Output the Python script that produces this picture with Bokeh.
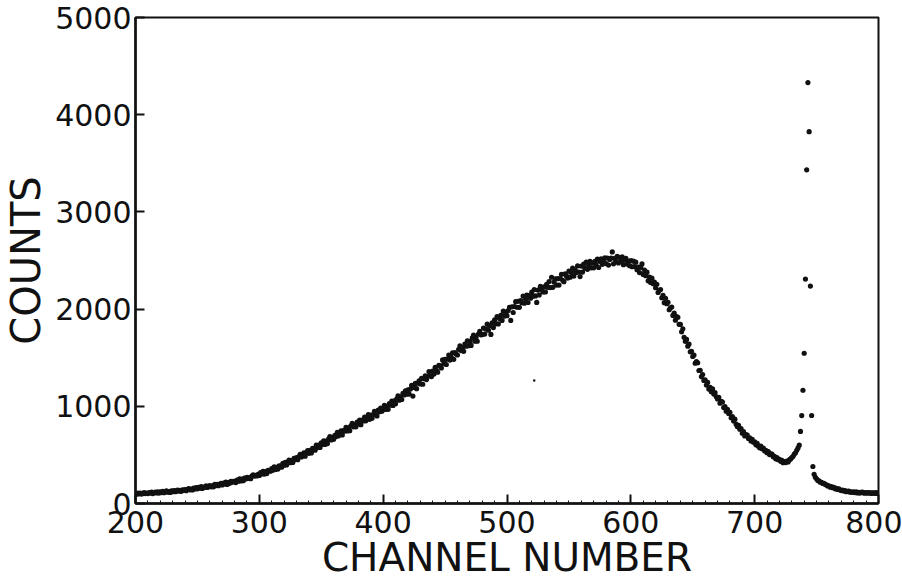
from bokeh.plotting import figure
from bokeh.models import Range1d, FixedTicker
from bokeh.embed import file_html
from bokeh.resources import INLINE

# Pulse-height spectrum: counts per channel
rise_start = 200
counts_rise = [
    103, 96, 108, 100, 106, 97, 105, 112, 102, 107,
    102, 113, 107, 117, 102, 112, 116, 109, 119, 107,
    119, 112, 124, 111, 120, 129, 116, 122, 114, 129,
    122, 132, 121, 132, 139, 126, 135, 125, 141, 136,
    144, 132, 145, 153, 141, 148, 139, 158, 150, 163,
    151, 166, 157, 174, 155, 170, 167, 181, 165, 177,
    185, 172, 182, 172, 198, 184, 196, 183, 198, 208,
    191, 211, 201, 220, 196, 216, 208, 227, 218, 229,
    227, 215, 240, 230, 253, 232, 250, 234, 262, 253,
    270, 257, 267, 255, 283, 294, 282, 290, 283, 301,
    288, 317, 304, 330, 303, 328, 308, 340, 338, 333,
    360, 343, 376, 350, 371, 354, 388, 385, 374, 412,
    394, 424, 396, 428, 447, 420, 440, 423, 464, 452,
    473, 450, 482, 506, 479, 494, 520, 487, 524, 543,
    516, 546, 520, 568, 562, 549, 601, 575, 602, 576,
    623, 609, 644, 607, 643, 616, 665, 689, 654, 679,
    660, 702, 689, 733, 696, 724, 748, 705, 751, 745,
    783, 746, 778, 749, 800, 824, 789, 809, 789, 838,
    818, 857, 810, 859, 850, 889, 851, 881, 914, 866,
    909, 876, 915, 948, 913, 900, 961, 943, 982, 949,
    980, 1011, 967, 999, 969, 1029, 1011, 1054, 1008, 1056,
    1027, 1076, 1107, 1063, 1096, 1070, 1132, 1116, 1158, 1124,
    1168, 1126, 1177, 1216, 1105, 1194, 1235, 1181, 1239, 1262,
    1230, 1288, 1227, 1284, 1312, 1275, 1309, 1357, 1314, 1306,
    1361, 1332, 1402, 1369, 1351, 1421, 1415, 1394, 1477, 1438,
    1482, 1430, 1486, 1528, 1476, 1504, 1550, 1483, 1552, 1537,
    1528, 1586, 1622, 1573, 1603, 1566, 1641, 1618, 1673, 1623,
    1667, 1626, 1703, 1732, 1670, 1708, 1669, 1744, 1770, 1735,
    1738, 1805, 1743, 1795, 1845, 1783, 1831, 1739, 1859, 1810,
    1889, 1848, 1924, 1847, 1904, 1936, 1884, 1979, 1928, 1968,
    1932, 1985, 2019, 1884, 2023, 1965, 2027, 2076, 2019, 2081,
    2018, 2088, 2065, 2134, 2060, 2105, 2145, 2068, 2141, 2112,
    2175, 2133, 2202, 2136, 2069, 2196, 2145, 2234, 2201, 2176,
    2230, 2177, 2256, 2224, 2284, 2221, 2328, 2224, 2278, 2312,
    2247, 2313, 2247, 2315, 2358, 2297, 2282, 2362, 2341, 2319,
    2390, 2328, 2376, 2422, 2340, 2405, 2377, 2444, 2382, 2335,
    2443, 2381, 2463, 2419, 2483, 2409, 2451, 2491, 2425, 2475,
    2425, 2491, 2457, 2514, 2428, 2491, 2516, 2461, 2489, 2528,
    2468, 2526, 2453, 2510, 2526, 2588, 2466, 2521, 2492, 2542,
    2475, 2530, 2492, 2538, 2457, 2507, 2523, 2463, 2491, 2447,
]

fall_start = 600
counts_fall = [
    2500, 2436, 2493, 2438, 2483, 2406, 2432, 2376, 2429, 2465,
    2357, 2401, 2344, 2380, 2291, 2329, 2274, 2318, 2261, 2277,
    2220, 2256, 2171, 2194, 2202, 2117, 2141, 2066, 2112, 2055,
    2070, 1993, 2014, 2022, 1935, 1958, 1886, 1924, 1915, 1843,
    1842, 1766, 1797, 1710, 1668, 1688, 1619, 1640, 1560, 1566,
    1512, 1527, 1444, 1460, 1448, 1368, 1370, 1306, 1326, 1266,
    1272, 1218, 1246, 1177, 1196, 1150, 1180, 1126, 1140, 1098,
    1075, 1093, 1032, 1051, 1044, 987, 996, 949, 970, 927,
    938, 882, 893, 850, 868, 816, 791, 805, 764, 770,
    723, 739, 695, 710, 705, 670, 675, 644, 659, 631,
    635, 604, 620, 589, 573, 590, 562, 569, 539, 548,
    522, 534, 503, 511, 508, 480, 485, 460, 473, 451,
    455, 434, 443, 420, 430, 421, 437, 427, 448, 459,
    472, 486, 508, 522, 548, 572, 600,
]

peak_start = 737
counts_peak = [741, 905, 1165, 1546, 2309, 3433, 4330, 3825, 2237, 905, 381, 300, 270]

tail_start = 750
counts_tail = [
    254, 236, 233, 219, 218, 206, 207, 195, 192, 181,
    182, 168, 175, 162, 166, 151, 156, 145, 151, 139,
    133, 139, 128, 134, 121, 126, 127, 116, 121, 115,
    120, 112, 119, 109, 114, 107, 114, 116, 107, 112,
    106, 112, 107, 113, 104, 110, 111, 104, 112, 104,
    109,
]

# single faint speck below the main band
speck_x = [522]
speck_y = [1265]

x_ticks = [200, 300, 400, 500, 600, 700, 800]
x_minor = list(range(200, 801, 10))
y_ticks = [0, 1000, 2000, 3000, 4000, 5000]

FONT = "DejaVu Sans"
INK = "#111111"

p = figure(
    width=902, height=583,
    x_range=Range1d(200, 800), y_range=Range1d(0, 5000),
    output_backend="svg", toolbar_location=None,
    min_border_left=134, min_border_right=24,
    min_border_top=17, min_border_bottom=80,
    background_fill_color="white", border_fill_color="white",
)
p.grid.grid_line_color = None
p.outline_line_color = INK
p.outline_line_width = 2

segments = [
    (rise_start, counts_rise),
    (fall_start, counts_fall),
    (peak_start, counts_peak),
    (tail_start, counts_tail),
]
for start, counts in segments:
    channels = list(range(start, start + len(counts)))
    p.scatter(channels, counts, size=5.2, fill_color=INK, line_color=None)

p.scatter(speck_x, speck_y, size=2.4, fill_color=INK, line_color=None)

# axes: inward ticks, no tick marks outside the frame
p.xaxis.ticker = FixedTicker(ticks=x_ticks, minor_ticks=x_minor)
p.yaxis.ticker = FixedTicker(ticks=y_ticks)
for ax in (p.xaxis[0], p.yaxis[0]):
    ax.axis_line_color = INK
    ax.axis_line_width = 2.5
    ax.major_tick_in = 9
    ax.major_tick_out = 0
    ax.major_tick_line_width = 2
    ax.major_tick_line_color = INK
    ax.major_label_text_font = FONT
    ax.major_label_text_font_size = "30px"
    ax.major_label_text_color = INK
    ax.axis_label_text_font = FONT
    ax.axis_label_text_font_style = "normal"
    ax.axis_label_text_color = INK

p.xaxis.major_label_standoff = 7
p.yaxis.major_label_standoff = 4

p.xaxis.minor_tick_in = 3
p.xaxis.minor_tick_out = 0
p.xaxis.minor_tick_line_color = INK
p.yaxis.minor_tick_line_color = None

p.yaxis.axis_label = "COUNTS"
p.yaxis.axis_label_text_font_size = "40px"
p.yaxis.axis_label_standoff = 3

p.xaxis.axis_label = "CHANNEL NUMBER"
p.xaxis.axis_label_text_font_size = "39px"
p.xaxis.axis_label_standoff = -1

open("out.html", "w").write(file_html(p, INLINE))
